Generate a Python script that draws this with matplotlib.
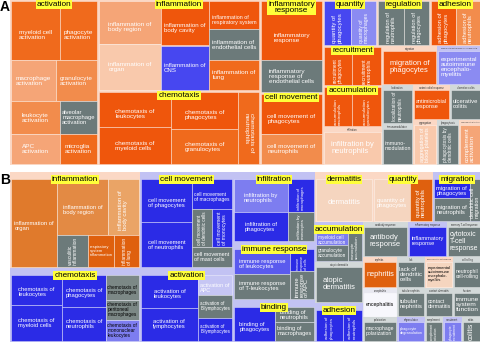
import numpy as np
import matplotlib
matplotlib.use("Agg")
import matplotlib.pyplot as plt
from matplotlib.patches import Rectangle

plt.rcParams['font.family'] = ['Liberation Sans Narrow', 'Liberation Sans', 'DejaVu Sans']

def C(label, color, rot=0, tc='white'):
    return ('C', label, color, rot, tc)

def H(w, ch):
    return ('H', w, ch)

def V(w, ch):
    return ('V', w, ch)

def Gb(name, child):
    return ('G', name, child, True)

def Gs(name, child):
    return ('G', name, child, False)

# ---------------- Panel A data ----------------
A_activation = Gb('activation', V([60, 41, 34, 30], [
    H([50, 38], [C('myeloid cell\nactivation', 'O2'), C('phagocyte\nactivation', 'O2')]),
    H([46, 42], [C('macrophage\nactivation', 'O4'), C('granulocyte\nactivation', 'O3')]),
    H([50, 38], [C('leukocyte\nactivation', 'O3'), C('alveolar\nmacrophage\nactivation', 'GR')]),
    H([50, 38], [C('APC\nactivation', 'O4'), C('microglia\nactivation', 'O2')]),
]))
A_inflammation = Gb('inflammation', H([63, 48, 51], [
    V([43, 47], [C('inflammation of\nbody region', 'O4'), C('inflammation of\norgan', 'O5')]),
    V([45, 45], [C('inflammation of\nbody cavity', 'O1'), C('inflammation of\nCNS', 'BL')]),
    V([28, 32, 30], [C('inflammation of\nrespiratory system', 'O1'),
                     C('inflammation of\nendothelial cells', 'GR'),
                     C('inflammation of\nlung', 'O2')]),
]))
A_chemotaxis = Gb('chemotaxis', H([73, 68, 21], [
    V([35, 37], [C('chemotaxis of\nleukocytes', 'O1'), C('chemotaxis of\nmyeloid cells', 'O1')]),
    V([37, 35], [C('chemotaxis of\nphagocytes', 'O1'), C('chemotaxis of\ngranulocytes', 'O2')]),
    C('chemotaxis of\nneutrophils', 'O2', 270),
]))
A_inflresp = Gb('inflammatory\nresponse', V([60, 32], [
    C('inflammatory\nresponse', 'O1'), C('inflammatory\nresponse of\nendothelial cells', 'GR')]))
A_cellmove = Gb('cell movement', V([40, 30], [
    C('cell movement of\nphagocytes', 'O1'), C('cell movement of\nneutrophils', 'O3')]))
A_quantity = Gb('quantity', H([28, 26], [C('quantity of\nphagocytes', 'BL', 90), C('quantity of\nmacrophages', 'LB', 90)]))
A_regulation = Gb('regulation', H([27, 26], [C('regulation of\nneutrophils', 'GR', 90), C('regulation of\nphagocytes', 'GR', 90)]))
A_adhesion = Gb('adhesion', H([26, 25], [C('adhesion of\nphagocytes', 'O1', 90), C('adhesion of\nneutrophils', 'O3', 90)]))
A_recruit = Gb('recruitment', H([29, 30], [C('recruitment\nphagocytes', 'O1', 90), C('recruitment\nneutrophils', 'O1', 90)]))
A_accum = Gb('accumulation', H([29, 30], [C('accumulation\nneutrophils', 'O1', 90), C('accumulation\ngranulocytes', 'O1', 90)]))
A_infil = Gs('infiltration', C('infiltration by\nneutrophils', 'O5'))
A_migr = Gs('migration', C('migration of\nphagocytes', 'O1'))
A_eae = Gs('experimental autoimmune encephalomyelitis', C('experimental\nautoimmune\nencephalo-\nmyelitis', 'LB'))
A_local = Gs('localization', C('localization of\nneutrophils', 'GR', 90))
A_immod = Gs('immunomodulation', C('immuno-\nmodulation', 'GR'))
A_antimic = Gs('antimicrobial response', C('antimicrobial\nresponse', 'O1'))
A_ulcer = Gs('ulcerative colitis', C('ulcerative\ncolitis', 'GR'))
A_aggr = Gs('aggregation', C('aggregation of\nblood platelets', 'O5', 90))
A_phago = Gs('phagocytosis', C('phagocytosis by\ndendritic cells', 'GR', 90))
A_compl = Gs('complement activation', C('complement\nactivation', 'O4', 90))

PANEL_A = H([88, 162, 63, 158], [
    A_activation,
    V([91, 74], [A_inflammation, A_chemotaxis]),
    V([93, 72], [A_inflresp, A_cellmove]),
    V([46, 119], [
        H([54, 53, 51], [A_quantity, A_regulation, A_adhesion]),
        H([59, 99], [
            V([40, 41, 38], [A_recruit, A_accum, A_infil]),
            V([39, 80], [
                H([55, 44], [A_migr, A_eae]),
                H([31, 68], [
                    V([39, 41], [A_local, A_immod]),
                    V([35, 45], [H([37, 31], [A_antimic, A_ulcer]),
                                 H([24, 22, 22], [A_aggr, A_phago, A_compl])]),
                ]),
            ]),
        ]),
    ]),
])

# ---------------- Panel B data ----------------
B_inflammation = Gb('inflammation', H([47, 83], [
    C('inflammation of\norgan', 'BO2'),
    V([55, 31], [
        H([51, 32], [C('inflammation of\nbody region', 'BO3'), C('inflammation of\nbody cavity', 'BO4', 90)]),
        H([31, 27, 25], [C('vasculitic\ninflammation', 'GR', 90),
                         C('respiratory\nsystem\ninflammation', 'BO1'),
                         C('inflammation\nof lung', 'BO1', 90)]),
    ]),
]))
B_chemotaxis = Gb('chemotaxis', H([52, 44, 34], [
    V([30, 37], [C('chemotaxis of\nleukocytes', 'BB'), C('chemotaxis of\nmyeloid cells', 'BB')]),
    V([32, 35], [C('chemotaxis of\nphagocytes', 'BB'), C('chemotaxis of\nneutrophils', 'BB')]),
    V([25, 20, 22], [C('chemotaxis of\nmacrophages', 'GL', 0, 'black'),
                     C('chemotaxis of\nperitoneal\nmacrophages', 'GL', 0, 'black'),
                     C('chemotaxis of\nmononuclear\nleukocytes', 'BL2', 0, 'black')]),
]))
B_cellmove = Gb('cell movement', H([52, 41], [
    V([43, 45], [C('cell movement\nof phagocytes', 'BB'), C('cell movement\nof neutrophils', 'BB')]),
    V([30, 38, 20], [C('cell movement\nof macrophages', 'BB'),
                     H([21, 20], [C('cell movement\nof dendritic cells', 'GR', 90),
                                  C('cell movement\nof monocytes', 'BB', 90)]),
                     C('cell movement\nof mast cells', 'GR')]),
]))
B_activation = Gb('activation', H([57, 34], [
    V([33, 34], [C('activation of\nleukocytes', 'BB'), C('activation of\nlymphocytes', 'BB')]),
    V([20, 23, 24], [C('activation of\nAPC', 'LAV'), C('activation of\nB-lymphocytes', 'GR'),
                     C('activation of\nB-lymphocytes', 'BB')]),
]))
B_infil = Gb('infiltration', H([55, 27], [
    V([32, 28], [C('infiltration by\nneutrophils', 'BL2'), C('infiltration of\nphagocytes', 'BB')]),
    V([32, 28], [C('infiltration of\nmacrophages', 'BB', 90), C('infiltration by\nmonocytes', 'GR', 90)]),
]))
B_immresp = Gb('immune response', H([57, 25], [
    V([26, 27], [C('immune response\nof leukocytes', 'BM'), C('immune response\nof T-leukocytes', 'GR')]),
    V([23, 30], [C('immune\nresponse\nof cells', 'BB', 90), C('immune\nresponse\nof APC', 'GR', 90)]),
]))
B_binding = Gb('binding', H([42, 40], [
    C('binding of\nphagocytes', 'BB'),
    V([15, 20], [C('binding of\nneutrophils', 'GR'), C('binding of\nmacrophages', 'GR')]),
]))
B_derm = Gb('dermatitis', C('dermatitis', 'BP'))
B_quant = Gb('quantity', H([37, 23], [C('quantity of\nphagocytes', 'BP'), C('quantity of\nneutrophils', 'BO1', 90)]))
B_migr = Gb('migration', H([37, 11], [
    V([20, 24], [C('migration of\nphagocytes', 'BB'), C('migration of\nneutrophils', 'GR')]),
    C('dendritic cell\nmigration', 'GR', 90)]))
B_accum = Gb('accumulation', H([33, 15], [
    V([17, 17], [C('myeloid cell\naccumulation', 'BL2'), C('granulocyte\naccumulation', 'GR')]),
    C('monocyte\naccumulation', 'GR', 90)]))
B_atopic = Gs('atopic dermatitis', C('atopic\ndermatitis', 'GR'))
B_adhesion = Gb('adhesion', H([28, 20], [C('adhesion of\nphagocytes', 'BB', 90), C('adhesion of\nneutrophils', 'BB', 90)]))
B_antibody = Gs('antibody response', C('antibody\nresponse', 'GR'))
B_inflresp = Gs('inflammatory response', C('inflammatory\nresponse', 'BB'))
B_cyto = Gs('memory T-cell response', C('cytotoxic\nT-cell\nresponse', 'GR'))
B_nephr = Gs('nephritis', C('nephritis', 'BO1'))
B_lack = Gs('lack', C('lack of\ndendritic\ncells', 'GR'))
B_eae = Gs('experimental autoimmune', C('experimental\nautoimmune\nencephalo-\nmyelitis', 'BP', 0, 'black'))
B_roll = Gs('cell rolling', C('neutrophil\ncell-rolling', 'GR'))
B_enceph = Gs('encephalitis', C('encephalitis', 'WH', 0, 'black'))
B_tub = Gs('tubular nephritis', C('tubular\nnephritis', 'GR'))
B_contact = Gs('contact dermatitis', C('contact\ndermatitis', 'GR'))
B_immsys = Gs('function', C('immune\nsystem\nfunction', 'GR'))
B_polar = Gs('polarization', C('macrophage\npolarization', 'GR'))
B_degran = Gs('degranulation', C('phagocyte\ndegranulation', 'BL2'))
B_compl = Gs('complement', C('complement\nactivation', 'GR', 90))
B_recr = Gs('recruitment', C('phagocyte\nrecruitment', 'BL2', 90))
B_colitis = Gs('colitis', C('colitis', 'GR', 90))

PANEL_B = H([130, 93, 82, 166], [
    V([96, 74], [B_inflammation, B_chemotaxis]),
    V([96, 74], [B_cellmove, B_activation]),
    V([70, 58, 42], [B_infil, B_immresp, B_binding]),
    V([50, 120], [
        H([58, 60, 48], [B_derm, B_quant, B_migr]),
        H([48, 118], [
            V([40, 41, 39], [B_accum, B_atopic, B_adhesion]),
            V([35, 31, 29, 25], [
                H([45, 39, 34], [B_antibody, B_inflresp, B_cyto]),
                H([34, 28, 28, 28], [B_nephr, B_lack, B_eae, B_roll]),
                H([34, 28, 28, 28], [B_enceph, B_tub, B_contact, B_immsys]),
                H([34, 28, 18, 19, 19], [B_polar, B_degran, B_compl, B_recr, B_colitis]),
            ]),
        ]),
    ]),
])

# ---------------- styles ----------------
COLORS = {
    'O1': '#ef560c', 'O2': '#f06a1c', 'O3': '#f28c4c', 'O4': '#f5a577', 'O5': '#f9c9ac',
    'BL': '#4747f0', 'LB': '#8b8bf2', 'GR': '#6c7a7a', 'GL': '#7c8886',
    'BO1': '#df600e', 'BO2': '#e07a2c', 'BO3': '#e38a44', 'BO4': '#eaa466',
    'BB': '#2b2be6', 'BM': '#5a5aee', 'BL2': '#7d7df0', 'LAV': '#c6c6f4',
    'BP': '#f5d5bf', 'WH': '#f7f7fc',
}
TINTS = {
    'O': '#fbd8c5', 'B': '#c2c2f3', 'L': '#c8c8f4', 'G': '#d3d9d9', 'W': '#e8e8f0',
}

fig = plt.figure(figsize=(4.81, 3.42), dpi=100)
ax = fig.add_axes([0, 0, 1, 1])
ax.set_xlim(0, 481)
ax.set_ylim(342, 0)
ax.axis('off')
renderer = fig.canvas.get_renderer()


def fit_text(t, wpx, hpx, margin=0.9):
    bb = t.get_window_extent(renderer)
    if bb.width <= 0 or bb.height <= 0:
        return
    s = min(1.0, margin * wpx / bb.width, margin * hpx / bb.height)
    if s < 1.0:
        t.set_fontsize(t.get_fontsize() * s)


def first_color(node):
    while node[0] != 'C':
        node = node[2][0] if node[0] in 'HV' else node[2]
    return node[2]


def tint_for(node):
    c = first_color(node)
    if c in ('BB', 'BM', 'BL', 'BL2', 'LB'):
        return TINTS['B']
    if c == 'LAV':
        return TINTS['L']
    if c in ('GR', 'GL'):
        return TINTS['G']
    if c == 'WH':
        return TINTS['W']
    return TINTS['O']


def draw(node, x0, y0, x1, y1, panel, reserve=-1.0, solo=False):
    kind = node[0]
    if kind in ('H', 'V'):
        w = np.asarray(node[1], float)
        edges = np.concatenate([[0], np.cumsum(w)]) / w.sum()
        for i, ch in enumerate(node[2]):
            if kind == 'H':
                draw(ch, x0 + (x1 - x0) * edges[i], y0, x0 + (x1 - x0) * edges[i + 1], y1,
                     panel, reserve)
            else:
                draw(ch, x0, y0 + (y1 - y0) * edges[i], x1, y0 + (y1 - y0) * edges[i + 1],
                     panel, reserve)
    elif kind == 'G':
        name, child, big = node[1], node[2], node[3]
        tint = tint_for(child)
        if panel == 'A' and big:
            tint = TINTS['O']
        ax.add_patch(Rectangle((x0, y0), x1 - x0, y1 - y0, fc=tint, ec='none', zorder=1))
        pad = 0.9
        if big:
            band = 0.0 if panel == 'A' else 6.5
        else:
            band = 3.6
        nlines = name.count('\n') + 1
        res = -1.0
        if big:
            res = y0 + (10.5 if panel == 'A' else 12.0) + (nlines - 1) * 6.0
        draw(child, x0 + pad, y0 + pad + band, x1 - pad, y1 - pad, panel, res,
             solo=(not big and child[0] == 'C'))
        if big:
            yc = y0 + (4.8 if panel == 'A' else 7.5) + (nlines - 1) * 2.6
            ax.text((x0 + x1) / 2, yc, name, ha='center', va='center', fontsize=5.9,
                    family=['Liberation Sans', 'DejaVu Sans'], color='black', zorder=6,
                    linespacing=0.9,
                    bbox=dict(boxstyle='square,pad=0.12', fc='#ffff3a', ec='none'))
        else:
            t = ax.text((x0 + x1) / 2, y0 + pad + band / 2, name, ha='center', va='center',
                        fontsize=1.8, color='#333333', zorder=6)
            fit_text(t, x1 - x0, band + 2, 0.85)
    else:
        _, label, ck, rot, tc = node
        ax.add_patch(Rectangle((x0, y0), x1 - x0, y1 - y0, fc=COLORS[ck],
                               ec=(1, 1, 1, 0.45), lw=0.6, zorder=2))
        fs = 4.6 if panel == 'A' else 4.2
        if solo:
            fs = 5.4
        if ck in ('O5', 'WH', 'BP') and '\n' not in label:
            fs = 5.4
        ty0 = y0
        if reserve > y0 and (y1 - reserve) > 10:
            ty0 = reserve
        t = ax.text((x0 + x1) / 2, (ty0 + y1) / 2, label, ha='center', va='center',
                    rotation=rot, fontsize=fs, color=tc, zorder=5,
                    multialignment='left', linespacing=1.0)
        fit_text(t, x1 - x0, y1 - ty0, 0.88)


draw(PANEL_A, 10, 0, 481, 165, 'A')
draw(PANEL_B, 10, 172, 481, 342, 'B')

ax.text(0, 7, 'A', fontsize=10, fontweight='bold', family=['Liberation Sans', 'DejaVu Sans'],
        ha='left', va='center')
ax.text(0, 180, 'B', fontsize=10, fontweight='bold', family=['Liberation Sans', 'DejaVu Sans'],
        ha='left', va='center')

fig.savefig('out.png', dpi=100)
